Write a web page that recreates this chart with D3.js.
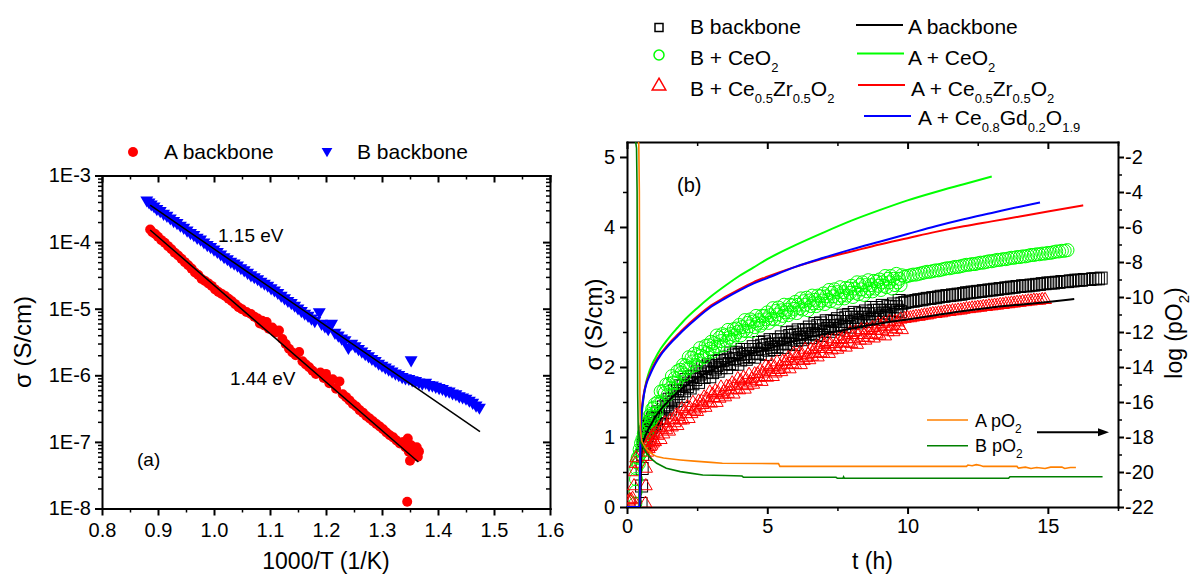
<!DOCTYPE html>
<html>
<head>
<meta charset="utf-8">
<script src="https://cdn.jsdelivr.net/npm/d3@7"></script>
<style>
  body { margin: 0; background: #fff; }
  svg { display: block; }
</style>
</head>
<body>
<script>
// ---------- Panel (a): conductivity vs. reciprocal temperature ----------
// [1000/T (1/K), sigma (S/cm)]
const aBackbonePts = [[0.886,1.55e-4],[0.890,1.41e-4],[0.895,1.32e-4],[0.900,1.20e-4],[0.906,1.07e-4],[0.912,9.8e-5],[0.918,8.7e-5],[0.924,7.8e-5],[0.930,6.9e-5],[0.936,6.3e-5],[0.942,5.6e-5],[0.948,5.0e-5],[0.954,4.5e-5],[0.960,4.0e-5],[0.966,3.5e-5],[0.972,3.2e-5],[0.978,2.8e-5],[0.984,2.6e-5],[0.990,2.4e-5],[0.996,2.2e-5],[1.002,1.95e-5],[1.008,1.78e-5],[1.014,1.66e-5],[1.020,1.55e-5],[1.026,1.41e-5],[1.032,1.29e-5],[1.038,1.17e-5],[1.044,1.05e-5],[1.050,9.8e-6],[1.058,8.9e-6],[1.066,8.3e-6],[1.072,7.6e-6],[1.078,7.1e-6],[1.082,6.0e-6],[1.086,6.6e-6],[1.090,5.6e-6],[1.094,6.3e-6],[1.098,5.0e-6],[1.104,5.2e-6],[1.110,4.4e-6],[1.116,4.7e-6],[1.122,3.5e-6],[1.128,2.95e-6],[1.134,2.5e-6],[1.140,2.2e-6],[1.146,2.0e-6],[1.152,2.24e-6],[1.158,1.62e-6],[1.164,1.45e-6],[1.170,1.32e-6],[1.176,1.17e-6],[1.182,1.05e-6],[1.190,1.10e-6],[1.196,9.1e-7],[1.200,1.05e-6],[1.206,7.6e-7],[1.212,8.7e-7],[1.218,6.3e-7],[1.224,8.1e-7],[1.230,5.2e-7],[1.236,4.7e-7],[1.242,4.2e-7],[1.248,3.7e-7],[1.254,3.4e-7],[1.260,3.0e-7],[1.266,2.75e-7],[1.272,2.45e-7],[1.278,2.24e-7],[1.284,2.04e-7],[1.290,1.86e-7],[1.296,1.70e-7],[1.302,1.55e-7],[1.308,1.38e-7],[1.314,1.26e-7],[1.320,1.17e-7],[1.326,1.05e-7],[1.332,9.5e-8],[1.338,1.0e-7],[1.342,8.3e-8],[1.346,1.12e-7],[1.348,7.1e-8],[1.352,8.9e-8],[1.355,6.3e-8],[1.358,7.9e-8],[1.360,6.6e-8],[1.362,8.3e-8],[1.364,6.0e-8],[1.366,7.2e-8],[1.350,5.2e-8],[1.345,1.26e-8]];

const bBackbonePts = [[0.880,4.27e-4],[0.884,3.98e-4],[0.888,3.72e-4],[0.893,3.47e-4],[0.898,3.16e-4],[0.904,2.95e-4],[0.910,2.69e-4],[0.916,2.51e-4],[0.922,2.29e-4],[0.928,2.09e-4],[0.934,1.95e-4],[0.940,1.78e-4],[0.946,1.66e-4],[0.952,1.51e-4],[0.958,1.38e-4],[0.964,1.29e-4],[0.970,1.17e-4],[0.976,1.10e-4],[0.982,1.00e-4],[0.988,9.1e-5],[0.994,8.5e-5],[1.000,7.8e-5],[1.006,7.2e-5],[1.012,6.6e-5],[1.018,6.0e-5],[1.024,5.6e-5],[1.030,5.1e-5],[1.036,4.8e-5],[1.042,4.5e-5],[1.048,4.1e-5],[1.054,3.8e-5],[1.060,3.5e-5],[1.066,3.2e-5],[1.072,3.0e-5],[1.078,2.8e-5],[1.084,2.57e-5],[1.090,2.4e-5],[1.096,2.24e-5],[1.102,2.04e-5],[1.108,1.9e-5],[1.114,1.74e-5],[1.120,1.58e-5],[1.126,1.45e-5],[1.132,1.32e-5],[1.138,1.23e-5],[1.144,1.12e-5],[1.150,1.02e-5],[1.156,9.3e-6],[1.162,8.5e-6],[1.168,7.9e-6],[1.174,7.2e-6],[1.180,6.6e-6],[1.188,8.9e-6],[1.192,6.0e-6],[1.198,5.5e-6],[1.204,5.0e-6],[1.210,6.0e-6],[1.216,4.4e-6],[1.222,4.0e-6],[1.228,3.6e-6],[1.234,3.4e-6],[1.240,2.6e-6],[1.246,3.0e-6],[1.252,2.75e-6],[1.258,2.5e-6],[1.264,2.3e-6],[1.270,2.1e-6],[1.276,1.95e-6],[1.282,1.78e-6],[1.288,1.66e-6],[1.294,1.51e-6],[1.300,1.41e-6],[1.306,1.32e-6],[1.312,1.23e-6],[1.318,1.15e-6],[1.324,1.07e-6],[1.330,1.02e-6],[1.336,9.5e-7],[1.342,9.1e-7],[1.352,1.7e-6],[1.348,8.9e-7],[1.354,8.5e-7],[1.360,8.3e-7],[1.366,7.9e-7],[1.372,7.6e-7],[1.378,7.8e-7],[1.384,7.2e-7],[1.390,7.1e-7],[1.396,6.8e-7],[1.402,6.5e-7],[1.408,6.3e-7],[1.414,5.9e-7],[1.420,5.75e-7],[1.426,5.4e-7],[1.432,5.25e-7],[1.438,4.9e-7],[1.444,4.7e-7],[1.450,4.5e-7],[1.456,4.2e-7],[1.462,3.9e-7],[1.468,3.55e-7],[1.474,3.3e-7]];

// Arrhenius fits (end points of the straight lines)
const aFitPts = [[0.886,1.52e-4],[1.365,5.0e-8]];
const bFitPts = [[0.886,3.6e-4],[1.475,1.43e-7]];

const xTicksA = [0.8,0.9,1.0,1.1,1.2,1.3,1.4,1.5,1.6];
const yTicksA = [1e-8,1e-7,1e-6,1e-5,1e-4,1e-3];

// ---------- Panel (b): conductivity relaxation vs. time ----------
// [t (h), sigma (S/cm)]
const bBackboneT = [[0.50,0.05],[0.52,0.30],[0.54,0.55],[0.56,0.75],[0.58,0.88],[0.60,0.98],[0.625,0.90],[0.65,1.06],[0.675,0.97],[0.70,1.12],[0.725,1.02],[0.75,1.15],[0.775,1.07],[0.80,1.19],[0.825,1.10],[0.85,1.22],[0.875,1.14],[0.90,1.26],[0.925,1.16],[0.95,1.28],[0.975,1.19],
[1.00,1.25],[1.05,1.19],[1.10,1.36],[1.15,1.27],[1.20,1.33],[1.25,1.27],[1.30,1.43],[1.35,1.35],[1.40,1.46],[1.45,1.43],[1.50,1.54],[1.55,1.40],[1.60,1.54],[1.65,1.50],[1.70,1.66],[1.75,1.52],[1.80,1.66],[1.85,1.62],[1.90,1.73],[1.95,1.58],
[2.00,1.73],[2.05,1.66],[2.10,1.82],[2.15,1.72],[2.20,1.77],[2.25,1.70],[2.30,1.86],[2.35,1.76],[2.40,1.87],[2.45,1.82],[2.50,1.93],[2.55,1.78],[2.60,1.90],[2.65,1.85],[2.70,2.00],[2.75,1.85],[2.80,1.98],[2.85,1.93],[2.90,2.03],[2.95,1.86],
[3.00,2.00],[3.05,1.92],[3.10,2.08],[3.15,1.97],[3.20,2.02],[3.25,1.94],[3.30,2.09],[3.35,1.99],[3.40,2.09],[3.45,2.04],[3.50,2.14],[3.55,1.99],[3.60,2.11],[3.65,2.05],[3.70,2.20],[3.75,2.04],[3.80,2.17],[3.85,2.12],[3.90,2.21],[3.95,2.04],
[4.00,2.18],[4.05,2.10],[4.10,2.25],[4.15,2.14],[4.20,2.19],[4.25,2.11],[4.30,2.25],[4.35,2.15],[4.40,2.25],[4.45,2.19],[4.50,2.29],[4.55,2.14],[4.60,2.25],[4.65,2.20],[4.70,2.35],[4.75,2.19],[4.80,2.31],[4.85,2.26],[4.90,2.36],[4.95,2.18],
[5.00,2.32],[5.05,2.24],[5.10,2.39],[5.15,2.28],[5.20,2.33],[5.25,2.25],[5.30,2.39],[5.35,2.29],[5.40,2.39],[5.45,2.33],[5.50,2.43],[5.55,2.28],[5.60,2.39],[5.65,2.34],[5.70,2.49],[5.75,2.33],[5.80,2.45],[5.85,2.40],[5.90,2.50],[5.95,2.32],
[6.00,2.46],[6.05,2.38],[6.10,2.53],[6.15,2.42],[6.20,2.47],[6.25,2.39],[6.30,2.53],[6.35,2.43],[6.40,2.53],[6.45,2.47],[6.50,2.57],[6.55,2.42],[6.60,2.53],[6.65,2.48],[6.70,2.62],[6.75,2.46],[6.80,2.59],[6.85,2.53],[6.90,2.63],[6.95,2.45],
[7.00,2.59],[7.05,2.51],[7.10,2.66],[7.15,2.55],[7.20,2.59],[7.25,2.51],[7.30,2.66],[7.35,2.55],[7.40,2.65],[7.45,2.59],[7.50,2.69],[7.55,2.54],[7.60,2.65],[7.65,2.60],[7.70,2.74],[7.75,2.58],[7.80,2.71],[7.85,2.65],[7.90,2.75],[7.95,2.57],
[8.00,2.71],[8.05,2.63],[8.10,2.78],[8.15,2.67],[8.20,2.71],[8.25,2.63],[8.30,2.77],[8.35,2.67],[8.40,2.76],[8.45,2.71],[8.50,2.80],[8.55,2.65],[8.60,2.76],[8.65,2.71],[8.70,2.85],[8.75,2.69],[8.80,2.81],[8.85,2.76],[8.90,2.85],[8.95,2.68],
[9.00,2.81],[9.05,2.73],[9.10,2.88],[9.15,2.77],[9.20,2.81],[9.25,2.73],[9.30,2.87],[9.35,2.77],[9.40,2.86],[9.45,2.81],[9.50,2.90],[9.55,2.75],[9.60,2.86],[9.65,2.81],[9.70,2.95],[9.75,2.79],[9.80,2.91],
[9.9,2.92],[10.0,2.93],[10.1,2.94],[10.2,2.94],[10.3,2.95],[10.4,2.96],[10.5,2.96],[10.6,2.97],[10.7,2.98],[10.8,2.98],[10.9,2.99],[11.0,2.99],[11.1,3.00],[11.2,3.01],[11.3,3.01],[11.4,3.02],[11.5,3.02],[11.6,3.03],[11.7,3.03],[11.8,3.04],[11.9,3.04],[12.0,3.05],[12.1,3.06],[12.2,3.06],[12.3,3.07],[12.4,3.07],[12.5,3.08],[12.6,3.08],[12.7,3.09],[12.8,3.09],[12.9,3.10],[13.0,3.10],[13.1,3.11],[13.2,3.11],[13.3,3.12],[13.4,3.12],[13.5,3.13],[13.6,3.13],[13.7,3.14],[13.8,3.14],[13.9,3.15],[14.0,3.15],[14.1,3.16],[14.2,3.16],[14.3,3.16],[14.4,3.17],[14.5,3.17],[14.6,3.18],[14.7,3.18],[14.8,3.19],[14.9,3.19],[15.0,3.20],[15.1,3.20],[15.2,3.20],[15.3,3.21],[15.4,3.21],[15.5,3.22],[15.6,3.22],[15.7,3.22],[15.8,3.23],[15.9,3.23],[16.0,3.24],[16.1,3.24],[16.2,3.24],[16.3,3.25],[16.4,3.25],[16.5,3.25],[16.6,3.26],[16.7,3.26],[16.8,3.26],[16.9,3.27]];

const bCeO2T = [[0.30,0.05],[0.31,0.22],[0.32,0.40],[0.33,0.55],[0.35,0.64],[0.38,0.70],[0.40,0.71],[0.425,0.62],[0.45,0.82],[0.475,0.76],[0.50,0.91],[0.525,0.80],[0.55,0.97],[0.575,0.90],[0.60,1.05],[0.625,0.96],[0.65,1.12],[0.675,1.02],[0.70,1.19],[0.725,1.08],[0.75,1.22],[0.775,1.14],[0.80,1.30],[0.825,1.18],[0.85,1.33],[0.875,1.24],[0.90,1.40],[0.925,1.28],[0.95,1.42],[0.975,1.33],
[1.00,1.47],[1.05,1.35],[1.10,1.50],[1.15,1.47],[1.20,1.65],[1.25,1.51],[1.30,1.66],[1.35,1.63],[1.40,1.75],[1.45,1.60],[1.50,1.76],[1.55,1.70],[1.60,1.87],[1.65,1.78],[1.70,1.84],[1.75,1.77],[1.80,1.94],[1.85,1.85],[1.90,1.96],[1.95,1.92],
[2.00,2.03],[2.05,1.89],[2.10,2.02],[2.15,1.98],[2.20,2.14],[2.25,1.99],[2.30,2.13],[2.35,2.08],[2.40,2.19],[2.45,2.03],[2.50,2.17],[2.55,2.10],[2.60,2.27],[2.65,2.16],[2.70,2.22],[2.75,2.14],[2.80,2.30],[2.85,2.20],[2.90,2.31],[2.95,2.26],
[3.00,2.36],[3.05,2.22],[3.10,2.34],[3.15,2.29],[3.20,2.45],[3.25,2.29],[3.30,2.42],[3.35,2.37],[3.40,2.47],[3.45,2.31],[3.50,2.45],[3.55,2.37],[3.60,2.53],[3.65,2.42],[3.70,2.47],[3.75,2.39],[3.80,2.54],[3.85,2.45],[3.90,2.55],[3.95,2.50],
[4.00,2.60],[4.05,2.45],[4.10,2.57],[4.15,2.52],[4.20,2.67],[4.25,2.51],[4.30,2.63],[4.35,2.58],[4.40,2.68],[4.45,2.51],[4.50,2.65],[4.55,2.57],[4.60,2.73],[4.65,2.62],[4.70,2.67],[4.75,2.59],[4.80,2.73],[4.85,2.63],[4.90,2.73],[4.95,2.68],
[5.00,2.78],[5.05,2.63],[5.10,2.74],[5.15,2.69],[5.20,2.84],[5.25,2.68],[5.30,2.80],[5.35,2.75],[5.40,2.85],[5.45,2.68],[5.50,2.81],[5.55,2.73],[5.60,2.89],[5.65,2.78],[5.70,2.82],[5.75,2.74],[5.80,2.89],[5.85,2.78],[5.90,2.88],[5.95,2.83],
[6.00,2.93],[6.05,2.77],[6.10,2.89],[6.15,2.84],[6.20,2.98],[6.25,2.82],[6.30,2.94],[6.35,2.89],[6.40,2.99],[6.45,2.81],[6.50,2.95],[6.55,2.87],[6.60,3.02],[6.65,2.91],[6.70,2.96],[6.75,2.87],[6.80,3.02],[6.85,2.91],[6.90,3.01],[6.95,2.95],
[7.00,3.05],[7.05,2.90],[7.10,3.01],[7.15,2.96],[7.20,3.10],[7.25,2.94],[7.30,3.06],[7.35,3.01],[7.40,3.11],[7.45,2.93],[7.50,3.07],[7.55,2.98],[7.60,3.14],[7.65,3.02],[7.70,3.07],[7.75,2.98],[7.80,3.13],[7.85,3.02],[7.90,3.12],[7.95,3.06],
[8.00,3.16],[8.05,3.00],[8.10,3.12],[8.15,3.06],[8.20,3.21],[8.25,3.04],[8.30,3.17],[8.35,3.11],[8.40,3.21],[8.45,3.03],[8.50,3.17],[8.55,3.08],[8.60,3.24],[8.65,3.12],[8.70,3.17],[8.75,3.08],[8.80,3.23],[8.85,3.12],[8.90,3.22],[8.95,3.16],
[9.00,3.25],[9.05,3.10],[9.10,3.21],[9.15,3.16],[9.20,3.30],[9.25,3.14],[9.30,3.26],[9.35,3.21],[9.40,3.30],[9.45,3.12],[9.50,3.26],[9.55,3.17],[9.60,3.33],[9.65,3.21],[9.70,3.26],[9.75,3.17],[9.80,3.31],
[9.9,3.29],[10.0,3.30],[10.1,3.31],[10.2,3.32],[10.3,3.32],[10.4,3.33],[10.5,3.34],[10.6,3.35],[10.7,3.36],[10.8,3.36],[10.9,3.37],[11.0,3.38],[11.1,3.38],[11.2,3.39],[11.3,3.40],[11.4,3.41],[11.5,3.41],[11.6,3.42],[11.7,3.43],[11.8,3.43],[11.9,3.44],[12.0,3.45],[12.1,3.46],[12.2,3.46],[12.3,3.47],[12.4,3.47],[12.5,3.48],[12.6,3.49],[12.7,3.49],[12.8,3.50],[12.9,3.51],[13.0,3.51],[13.1,3.52],[13.2,3.53],[13.3,3.53],[13.4,3.54],[13.5,3.54],[13.6,3.55],[13.7,3.56],[13.8,3.56],[13.9,3.57],[14.0,3.57],[14.1,3.58],[14.2,3.58],[14.3,3.59],[14.4,3.60],[14.5,3.60],[14.6,3.61],[14.7,3.61],[14.8,3.62],[14.9,3.62],[15.0,3.63],[15.1,3.63],[15.2,3.64],[15.3,3.65],[15.4,3.65],[15.5,3.66],[15.6,3.66],[15.7,3.67]];

const bCZOT = [[0.05,0.08],[0.10,0.10],[0.15,0.10],[0.20,0.12],[0.25,0.30],[0.28,0.50],[0.30,0.62],[0.33,0.70],[0.66,0.05],[0.67,0.30],[0.68,0.55],[0.69,0.72],[0.70,0.85],[0.725,0.78],[0.75,0.92],[0.775,0.83],[0.80,0.95],[0.825,0.86],[0.85,0.98],[0.875,0.88],[0.90,1.02],[0.925,0.91],[0.95,1.04],[0.975,0.94],
[1.00,0.93],[1.05,1.07],[1.10,1.02],[1.15,1.13],[1.20,0.96],[1.25,1.11],[1.30,1.04],[1.35,1.20],[1.40,1.10],[1.45,1.15],[1.50,1.08],[1.55,1.24],[1.60,1.14],[1.65,1.25],[1.70,1.20],[1.75,1.31],[1.80,1.16],[1.85,1.29],[1.90,1.24],[1.95,1.40],
[2.00,1.24],[2.05,1.37],[2.10,1.33],[2.15,1.43],[2.20,1.26],[2.25,1.41],[2.30,1.33],[2.35,1.49],[2.40,1.38],[2.45,1.44],[2.50,1.36],[2.55,1.51],[2.60,1.41],[2.65,1.51],[2.70,1.46],[2.75,1.57],[2.80,1.42],[2.85,1.54],[2.90,1.49],[2.95,1.64],
[3.00,1.48],[3.05,1.61],[3.10,1.56],[3.15,1.66],[3.20,1.49],[3.25,1.63],[3.30,1.55],[3.35,1.71],[3.40,1.60],[3.45,1.65],[3.50,1.57],[3.55,1.72],[3.60,1.62],[3.65,1.72],[3.70,1.67],[3.75,1.77],[3.80,1.61],[3.85,1.73],[3.90,1.68],[3.95,1.83],
[4.00,1.67],[4.05,1.80],[4.10,1.75],[4.15,1.85],[4.20,1.68],[4.25,1.82],[4.30,1.73],[4.35,1.89],[4.40,1.78],[4.45,1.83],[4.50,1.75],[4.55,1.90],[4.60,1.80],[4.65,1.90],[4.70,1.85],[4.75,1.95],[4.80,1.79],[4.85,1.91],[4.90,1.86],[4.95,2.01],
[5.00,1.85],[5.05,1.98],[5.10,1.93],[5.15,2.03],[5.20,1.86],[5.25,2.00],[5.30,1.91],[5.35,2.07],[5.40,1.96],[5.45,2.01],[5.50,1.93],[5.55,2.08],[5.60,1.98],[5.65,2.08],[5.70,2.03],[5.75,2.13],[5.80,1.97],[5.85,2.09],[5.90,2.04],[5.95,2.19],
[6.00,2.03],[6.05,2.16],[6.10,2.11],[6.15,2.20],[6.20,2.03],[6.25,2.17],[6.30,2.09],[6.35,2.25],[6.40,2.13],[6.45,2.18],[6.50,2.10],[6.55,2.25],[6.60,2.15],[6.65,2.24],[6.70,2.19],[6.75,2.29],[6.80,2.14],[6.85,2.26],[6.90,2.20],[6.95,2.35],
[7.00,2.19],[7.05,2.32],[7.10,2.26],[7.15,2.36],[7.20,2.19],[7.25,2.33],[7.30,2.24],[7.35,2.40],[7.40,2.29],[7.45,2.33],[7.50,2.25],[7.55,2.40],[7.60,2.29],[7.65,2.39],[7.70,2.34],[7.75,2.44],[7.80,2.28],[7.85,2.40],[7.90,2.35],[7.95,2.49],
[8.00,2.33],[8.05,2.46],[8.10,2.40],[8.15,2.50],[8.20,2.32],[8.25,2.46],[8.30,2.38],[8.35,2.53],[8.40,2.42],[8.45,2.46],[8.50,2.38],[8.55,2.53],[8.60,2.42],[8.65,2.52],[8.70,2.46],[8.75,2.56],[8.80,2.41],[8.85,2.52],[8.90,2.47],[8.95,2.61],
[9.00,2.45],[9.05,2.58],[9.10,2.52],[9.15,2.62],[9.20,2.44],[9.25,2.58],[9.30,2.50],[9.35,2.65],[9.40,2.54],[9.45,2.58],[9.50,2.50],[9.55,2.65],[9.60,2.54],[9.65,2.64],[9.70,2.59],[9.75,2.68],[9.80,2.53],
[9.9,2.69],[10.0,2.70],[10.1,2.70],[10.2,2.71],[10.3,2.72],[10.4,2.72],[10.5,2.73],[10.6,2.74],[10.7,2.74],[10.8,2.75],[10.9,2.76],[11.0,2.76],[11.1,2.77],[11.2,2.77],[11.3,2.78],[11.4,2.79],[11.5,2.79],[11.6,2.80],[11.7,2.80],[11.8,2.81],[11.9,2.81],[12.0,2.82],[12.1,2.83],[12.2,2.83],[12.3,2.84],[12.4,2.84],[12.5,2.85],[12.6,2.85],[12.7,2.86],[12.8,2.86],[12.9,2.87],[13.0,2.87],[13.1,2.88],[13.2,2.88],[13.3,2.89],[13.4,2.89],[13.5,2.90],[13.6,2.90],[13.7,2.91],[13.8,2.91],[13.9,2.92],[14.0,2.92],[14.1,2.93],[14.2,2.93],[14.3,2.94],[14.4,2.94],[14.5,2.95],[14.6,2.95],[14.7,2.95],[14.8,2.96],[14.9,2.96]];

const aBackboneT = [[0.47,0],[0.49,0.30],[0.50,0.62],[0.52,0.80],[0.55,0.90],[0.60,0.96],[0.70,1.06],[0.80,1.14],[0.90,1.21],[1.00,1.28],[1.20,1.39],[1.40,1.48],[1.60,1.56],[1.80,1.64],[2.00,1.70],[2.50,1.84],[3.00,1.95],[3.50,2.04],[4.00,2.12],[4.50,2.20],[5.00,2.26],[6.00,2.37],[7.00,2.47],[8.00,2.55],[9.00,2.62],[10.00,2.68],[11.00,2.74],[12.00,2.80],[13.00,2.85],[14.00,2.89],[15.00,2.93],[15.94,2.97]];

const aCeO2T = [[0.42,0],[0.45,0.50],[0.48,0.95],[0.52,1.28],[0.58,1.53],[0.65,1.72],[0.75,1.88],[0.90,2.04],[1.00,2.12],[1.20,2.26],[1.40,2.37],[1.60,2.47],[1.80,2.56],[2.00,2.65],[2.50,2.84],[3.00,3.01],[3.50,3.16],[4.00,3.30],[4.50,3.42],[5.00,3.54],[6.00,3.74],[7.00,3.92],[8.00,4.09],[9.00,4.24],[10.00,4.38],[11.00,4.50],[12.00,4.61],[13.00,4.72]];

const aCZOT = [[0,0],[0.44,0],[0.46,0.40],[0.48,0.95],[0.51,1.30],[0.55,1.48],[0.60,1.62],[0.70,1.79],[0.80,1.89],[0.90,1.98],[1.00,2.06],[1.20,2.19],[1.40,2.29],[1.60,2.38],[1.80,2.46],[2.00,2.54],[2.50,2.72],[3.00,2.88],[3.50,3.00],[4.00,3.11],[4.50,3.21],[5.00,3.29],[6.00,3.43],[7.00,3.55],[8.00,3.65],[9.00,3.75],[10.00,3.84],[11.00,3.93],[12.00,4.01],[13.00,4.08],[14.00,4.15],[15.00,4.22],[16.26,4.31]];

const aCGOT = [[0,0],[0.45,0],[0.46,0.40],[0.48,0.95],[0.51,1.28],[0.55,1.45],[0.60,1.60],[0.70,1.77],[0.80,1.87],[0.90,1.96],[1.00,2.04],[1.20,2.17],[1.40,2.27],[1.60,2.36],[1.80,2.44],[2.00,2.52],[2.50,2.70],[3.00,2.86],[3.50,2.98],[4.00,3.09],[4.50,3.19],[5.00,3.27],[6.00,3.43],[7.00,3.56],[8.00,3.68],[9.00,3.79],[10.00,3.90],[11.00,4.01],[12.00,4.11],[13.00,4.20],[14.00,4.29],[14.72,4.35]];

// [t (h), log pO2]
const aPO2 = [[0.25,-0.4],[0.38,-0.6],[0.42,-1.3],[0.44,-4],[0.45,-11],[0.46,-15.5],[0.48,-17.6],[0.52,-18.2],[0.60,-18.5],[0.75,-18.78],[0.90,-18.98],[1.06,-19.12],[1.30,-19.2],[1.60,-19.26],[1.90,-19.31],[2.40,-19.38],[3.00,-19.45],[3.40,-19.5],[5.40,-19.52],[5.45,-19.68],[12.10,-19.68],[12.15,-19.6],[12.30,-19.64],[12.45,-19.58],[12.60,-19.63],[12.70,-19.68],[13.90,-19.68],[13.95,-19.78],[14.20,-19.72],[14.40,-19.8],[14.60,-19.74],[14.90,-19.8],[15.10,-19.72],[15.50,-19.72],[15.60,-19.8],[15.80,-19.74],[16.00,-19.74]];
const bPO2 = [[0.18,-0.3],[0.28,-0.8],[0.34,-1.5],[0.36,-4],[0.37,-11],[0.38,-15.5],[0.40,-17.6],[0.45,-18.2],[0.55,-18.5],[0.70,-18.93],[0.85,-19.22],[1.06,-19.5],[1.40,-19.79],[1.90,-19.98],[2.20,-20.05],[2.70,-20.17],[3.50,-20.2],[4.10,-20.23],[4.15,-20.3],[7.45,-20.3],[7.50,-20.36],[7.70,-20.36],[7.72,-20.28],[7.75,-20.36],[13.60,-20.36],[13.65,-20.27],[16.95,-20.27]];

const tTicks = [0,5,10,15];
const sigmaTicks = [0,1,2,3,4,5];
const pO2Ticks = [-22,-20,-18,-16,-14,-12,-10,-8,-6,-4,-2];

// ---------- drawing ----------
const FONT = "'Liberation Sans', Arial, Helvetica, sans-serif";
const svg = d3.select("body").append("svg")
  .attr("width", 1192).attr("height", 575)
  .style("font-family", FONT);

function styleAxis(g, size) {
  g.attr("font-size", null).attr("font-family", null);
  g.select(".domain").attr("stroke", "#000").attr("stroke-width", 2).attr("stroke-linecap", "square");
  g.selectAll(".tick line").attr("stroke", "#000").attr("stroke-width", 2);
  g.selectAll(".tick text").attr("fill", "#000").attr("font-size", size || 20);
  return g;
}
function minorAxis(g) {
  g.attr("font-size", null).attr("font-family", null);
  g.select(".domain").remove();
  g.selectAll(".tick line").attr("stroke", "#000").attr("stroke-width", 1.5);
  return g;
}

// sub-scripted label helper: parts = [[text, isSub], ...]
function richText(parent, x, y, parts, size, subSize, shift) {
  const t = parent.append("text").attr("x", x).attr("y", y).attr("font-size", size).attr("fill", "#000");
  let down = false;
  parts.forEach(([s, sub]) => {
    const ts = t.append("tspan").text(s);
    if (sub) {
      ts.attr("font-size", subSize);
      if (!down) { ts.attr("dy", shift); down = true; }
    } else if (down) {
      ts.attr("dy", -shift); down = false;
    }
  });
  return t;
}

// ===== Panel (a) =====
const PA = { l: 102, r: 550, t: 175.5, b: 508.5 };
const xA = d3.scaleLinear().domain([0.8, 1.6]).range([PA.l, PA.r]);
const yA = d3.scaleLog().domain([1e-8, 1e-3]).range([PA.b, PA.t]);

const xMinorA = [0.85,0.95,1.05,1.15,1.25,1.35,1.45,1.55];
const yMinorA = [];
yTicksA.slice(0, -1).forEach(d => { for (let k = 2; k <= 9; k++) yMinorA.push(d * k); });

const ga = svg.append("g");
ga.append("g").attr("transform", `translate(0,${PA.b})`)
  .call(d3.axisBottom(xA).tickValues(xMinorA).tickSize(4).tickFormat("")).call(minorAxis);
ga.append("g").attr("transform", `translate(0,${PA.t})`)
  .call(d3.axisTop(xA).tickValues(xMinorA).tickSize(-4).tickFormat("")).call(minorAxis);
ga.append("g").attr("transform", `translate(${PA.l},0)`)
  .call(d3.axisLeft(yA).tickValues(yMinorA).tickSize(4).tickFormat("")).call(minorAxis);
ga.append("g").attr("transform", `translate(${PA.r},0)`)
  .call(d3.axisRight(yA).tickValues(yMinorA).tickSize(-4).tickFormat("")).call(minorAxis);
ga.append("g").attr("transform", `translate(0,${PA.b})`)
  .call(d3.axisBottom(xA).tickValues(xTicksA).tickSize(7).tickSizeOuter(0).tickPadding(7).tickFormat(d3.format(".1f")))
  .call(styleAxis);
ga.append("g").attr("transform", `translate(0,${PA.t})`)
  .call(d3.axisTop(xA).tickValues(xTicksA).tickSize(-7).tickSizeOuter(0).tickFormat(""))
  .call(styleAxis);
ga.append("g").attr("transform", `translate(${PA.l},0)`)
  .call(d3.axisLeft(yA).tickValues(yTicksA).tickSize(7).tickSizeOuter(0).tickPadding(4)
    .tickFormat(d => "1E" + Math.round(Math.log10(d))))
  .call(styleAxis);
ga.append("g").attr("transform", `translate(${PA.r},0)`)
  .call(d3.axisRight(yA).tickValues(yTicksA).tickSize(-7).tickSizeOuter(0).tickFormat(""))
  .call(styleAxis);

// data (a)
ga.append("g").selectAll("circle").data(aBackbonePts).join("circle")
  .attr("cx", d => xA(d[0])).attr("cy", d => yA(d[1])).attr("r", 5).attr("fill", "#ff0000");
const triDown = d3.symbol().type(d3.symbolTriangle).size(72);
ga.append("g").selectAll("path").data(bBackbonePts).join("path")
  .attr("d", triDown)
  .attr("transform", d => `translate(${xA(d[0])},${yA(d[1])}) rotate(180)`)
  .attr("fill", "#0000ff");
const fitLine = d3.line().x(d => xA(d[0])).y(d => yA(d[1]));
ga.append("path").attr("d", fitLine(aFitPts)).attr("stroke", "#000").attr("stroke-width", 1.5).attr("fill", "none");
ga.append("path").attr("d", fitLine(bFitPts)).attr("stroke", "#000").attr("stroke-width", 1.5).attr("fill", "none");

// legend (a)
ga.append("circle").attr("cx", 133).attr("cy", 152).attr("r", 5).attr("fill", "#ff0000");
ga.append("text").attr("x", 164).attr("y", 159).attr("font-size", 21).text("A backbone");
ga.append("path").attr("d", d3.symbol().type(d3.symbolTriangle).size(50))
  .attr("transform", "translate(327,151) rotate(180)").attr("fill", "#0000ff");
ga.append("text").attr("x", 357).attr("y", 159).attr("font-size", 21).text("B backbone");

// annotations (a)
ga.append("text").attr("x", 218).attr("y", 242).attr("font-size", 19).text("1.15 eV");
ga.append("text").attr("x", 230).attr("y", 385).attr("font-size", 19).text("1.44 eV");
ga.append("text").attr("x", 137).attr("y", 466).attr("font-size", 19).text("(a)");

// titles (a)
ga.append("text").attr("x", (PA.l + PA.r) / 2).attr("y", 569).attr("text-anchor", "middle")
  .attr("font-size", 23).text("1000/T (1/K)");
ga.append("text").attr("transform", `translate(31,${(PA.t + PA.b) / 2}) rotate(-90)`)
  .attr("text-anchor", "middle").attr("font-size", 24).text("σ (S/cm)");

// ===== Panel (b) =====
const PB = { l: 627, r: 1118, t: 142, b: 507 };
const xB = d3.scaleLinear().domain([0, 17.5]).range([PB.l, PB.r]);
const yB = d3.scaleLinear().domain([0, 5.214]).range([PB.b, PB.t]);
const yB2 = d3.scaleLinear().domain([-22, -1.143]).range([PB.b, PB.t]);

const gb = svg.append("g");
const tMinor = [2.5, 7.5, 12.5, 17.5];
const sMinor = [0.5, 1.5, 2.5, 3.5, 4.5];
const pMinor = [-21, -19, -17, -15, -13, -11, -9, -7, -5, -3];

gb.append("g").attr("transform", `translate(0,${PB.b})`)
  .call(d3.axisBottom(xB).tickValues(tMinor).tickSize(4).tickFormat("")).call(minorAxis);
gb.append("g").attr("transform", `translate(0,${PB.t})`)
  .call(d3.axisTop(xB).tickValues(tMinor).tickSize(-4).tickFormat("")).call(minorAxis);
gb.append("g").attr("transform", `translate(${PB.l},0)`)
  .call(d3.axisLeft(yB).tickValues(sMinor).tickSize(4).tickFormat("")).call(minorAxis);
gb.append("g").attr("transform", `translate(${PB.r},0)`)
  .call(d3.axisRight(yB2).tickValues(pMinor).tickSize(4).tickFormat("")).call(minorAxis);

gb.append("g").attr("transform", `translate(0,${PB.b})`)
  .call(d3.axisBottom(xB).tickValues(tTicks).tickSize(7).tickSizeOuter(0).tickPadding(5).tickFormat(d3.format("d")))
  .call(styleAxis);
gb.append("g").attr("transform", `translate(0,${PB.t})`)
  .call(d3.axisTop(xB).tickValues(tTicks).tickSize(-7).tickSizeOuter(0).tickFormat(""))
  .call(styleAxis);
gb.append("g").attr("transform", `translate(${PB.l},0)`)
  .call(d3.axisLeft(yB).tickValues(sigmaTicks).tickSize(7).tickSizeOuter(0).tickPadding(5).tickFormat(d3.format("d")))
  .call(styleAxis);
gb.append("g").attr("transform", `translate(${PB.r},0)`)
  .call(d3.axisRight(yB2).tickValues(pO2Ticks).tickSize(6).tickSizeOuter(0).tickPadding(1).tickFormat(d => String(d)))
  .call(styleAxis);

svg.append("defs").append("clipPath").attr("id", "clipB")
  .append("rect").attr("x", PB.l).attr("y", PB.t).attr("width", PB.r - PB.l).attr("height", PB.b - PB.t);
const plotB = gb.append("g").attr("clip-path", "url(#clipB)");

// B series (open symbols)
plotB.append("g").selectAll("rect").data(bBackboneT).join("rect")
  .attr("x", d => xB(d[0]) - 6).attr("y", d => yB(d[1]) - 6)
  .attr("width", 12).attr("height", 12)
  .attr("fill", "none").attr("stroke", "#000").attr("stroke-width", 1);
plotB.append("g").selectAll("circle").data(bCeO2T).join("circle")
  .attr("cx", d => xB(d[0])).attr("cy", d => yB(d[1])).attr("r", 6.5)
  .attr("fill", "none").attr("stroke", "#00ff00").attr("stroke-width", 1);
const triUp = d3.symbol().type(d3.symbolTriangle).size(72);
plotB.append("g").selectAll("path").data(bCZOT).join("path")
  .attr("d", triUp)
  .attr("transform", d => `translate(${xB(d[0])},${yB(d[1])})`)
  .attr("fill", "none").attr("stroke", "#ff0000").attr("stroke-width", 1);

// A series (lines)
const lineB = d3.line().x(d => xB(d[0])).y(d => yB(d[1])).curve(d3.curveMonotoneX);
[[aBackboneT, "#000000"], [aCeO2T, "#00ff00"], [aCZOT, "#ff0000"], [aCGOT, "#0000ff"]].forEach(([data, c]) => {
  plotB.append("path").attr("d", lineB(data)).attr("fill", "none").attr("stroke", c).attr("stroke-width", 2);
});

// oxygen partial pressure (right axis)
const lineP = d3.line().x(d => xB(d[0])).y(d => yB2(d[1]));
plotB.append("path").attr("d", lineP(aPO2)).attr("fill", "none").attr("stroke", "#ff8000").attr("stroke-width", 1.6);
plotB.append("path").attr("d", lineP(bPO2)).attr("fill", "none").attr("stroke", "#008000").attr("stroke-width", 1.6);

// inset legend for pO2 + arrow to right axis
gb.append("line").attr("x1", 927).attr("x2", 968).attr("y1", 420).attr("y2", 420).attr("stroke", "#ff8000").attr("stroke-width", 1.6);
richText(gb, 975, 427, [["A pO", false], ["2", true]], 18, 12, 6);
gb.append("line").attr("x1", 927).attr("x2", 968).attr("y1", 445.7).attr("y2", 445.7).attr("stroke", "#008000").attr("stroke-width", 1.6);
richText(gb, 975, 452, [["B pO", false], ["2", true]], 18, 12, 6);
gb.append("line").attr("x1", 1037).attr("x2", 1100).attr("y1", 432.3).attr("y2", 432.3).attr("stroke", "#000").attr("stroke-width", 2);
gb.append("path").attr("d", "M1109,432.3 L1098,428.3 L1098,436.3 Z").attr("fill", "#000");

// panel label and titles (b)
gb.append("text").attr("x", 677).attr("y", 192).attr("font-size", 20).text("(b)");
gb.append("text").attr("x", (PB.l + PB.r) / 2).attr("y", 569).attr("text-anchor", "middle")
  .attr("font-size", 23).text("t (h)");
gb.append("text").attr("transform", `translate(602,${(PB.t + PB.b) / 2}) rotate(-90)`)
  .attr("text-anchor", "middle").attr("font-size", 24).text("σ (S/cm)");
const rt = gb.append("g").attr("transform", "translate(1182,333) rotate(-90)");
richText(rt, 0, 0, [["log (pO", false], ["2", true], [")", false]], 23, 15, 7).attr("text-anchor", "middle");

// top legend (b)
const lg = svg.append("g");
lg.append("rect").attr("x", 655).attr("y", 23.5).attr("width", 8).attr("height", 8)
  .attr("fill", "none").attr("stroke", "#000").attr("stroke-width", 1.5);
lg.append("circle").attr("cx", 659).attr("cy", 55).attr("r", 5)
  .attr("fill", "none").attr("stroke", "#00ff00").attr("stroke-width", 1.5);
lg.append("path").attr("d", d3.symbol().type(d3.symbolTriangle).size(80))
  .attr("transform", "translate(659,86)")
  .attr("fill", "none").attr("stroke", "#ff0000").attr("stroke-width", 1.5);
richText(lg, 690, 34, [["B backbone", false]], 21, 13, 7);
richText(lg, 690, 65, [["B + CeO", false], ["2", true]], 21, 13, 7);
richText(lg, 690, 96, [["B + Ce", false], ["0.5", true], ["Zr", false], ["0.5", true], ["O", false], ["2", true]], 21, 13, 7);

[[25, "#000000", 856], [53.5, "#00ff00", 857], [85, "#ff0000", 858], [116, "#0000ff", 864]].forEach(([y, c, x]) => {
  lg.append("line").attr("x1", x).attr("x2", x + 47).attr("y1", y).attr("y2", y).attr("stroke", c).attr("stroke-width", 2);
});
richText(lg, 908, 34, [["A backbone", false]], 21, 13, 7);
richText(lg, 908, 65, [["A + CeO", false], ["2", true]], 21, 13, 7);
richText(lg, 911, 96, [["A + Ce", false], ["0.5", true], ["Zr", false], ["0.5", true], ["O", false], ["2", true]], 21, 13, 7);
richText(lg, 918, 125, [["A + Ce", false], ["0.8", true], ["Gd", false], ["0.2", true], ["O", false], ["1.9", true]], 21, 13, 7);
</script>
</body>
</html>
